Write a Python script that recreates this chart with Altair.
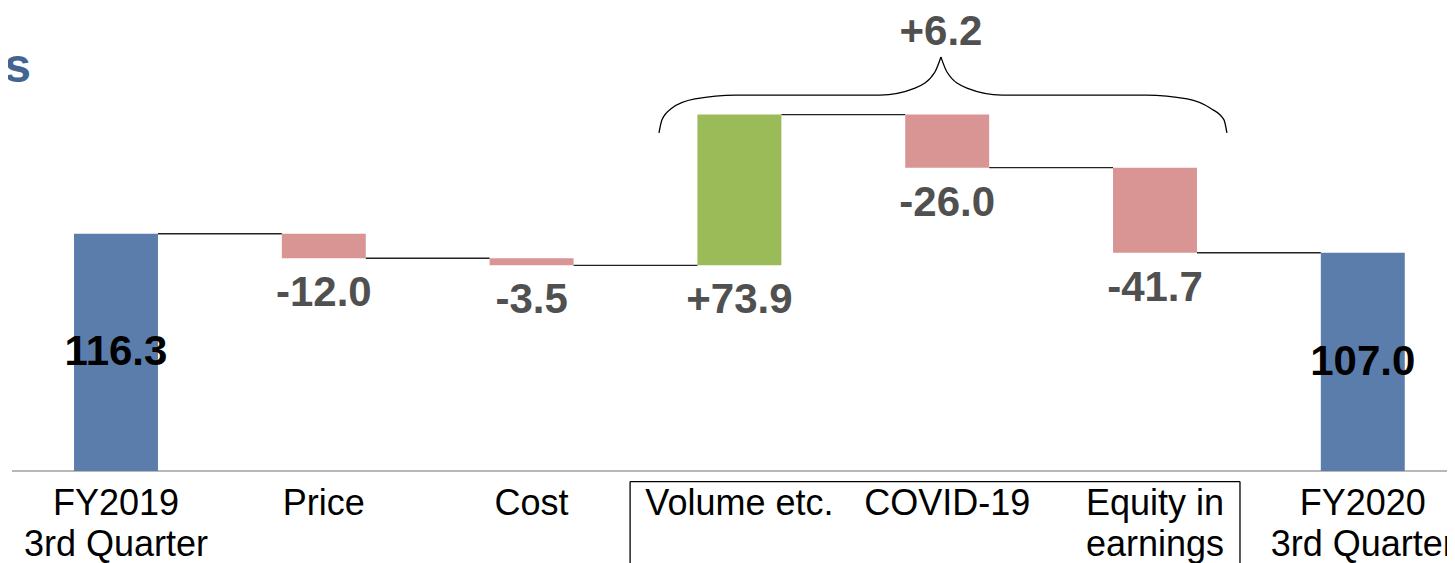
import altair as alt
import pandas as pd

# ---- data ----
categories = ["FY2019\n3rd Quarter", "Price", "Cost", "Volume etc.", "COVID-19",
              "Equity in\nearnings", "FY2020\n3rd Quarter"]
values = [116.3, -12.0, -3.5, 73.9, -26.0, -41.7, 107.0]
kinds = ["total", "delta", "delta", "delta", "delta", "delta", "total"]
group_total_label = "+6.2"
title_text = "Analysis"

# brace annotation shape (category index, value units)
brace_left_i = [2.613, 2.627, 2.676, 2.786, 2.984, 3.677, 3.845, 3.941, 3.970]
brace_left_v = [165.7, 172.1, 177.9, 182.4, 184.3, 184.3, 187.7, 195.6, 202.9]
brace_right_i = [3.970, 3.999, 4.095, 4.264, 4.957, 5.155, 5.265, 5.332, 5.346]
brace_right_v = [202.9, 195.6, 187.7, 184.3, 184.3, 182.4, 177.9, 172.1, 165.7]

# ---- derived table ----
rows = []
running = 0.0
for i, (c, v, k) in enumerate(zip(categories, values, kinds)):
    if k == "total":
        start, end = 0.0, v
        running = v
        label = f"{v:.1f}"
        kind = "total"
    else:
        start, end = running, running + v
        running = end
        label = f"{v:+.1f}"
        kind = "up" if v > 0 else "down"
    parts = c.split("\n")
    rows.append(dict(i=i, line1=parts[0], line2=parts[1] if len(parts) > 1 else "",
                     start=start, end=end, lo=min(start, end),
                     hi=max(start, end), mid=(start + end) / 2, label=label,
                     kind=kind, x0=i - 0.202, x1=i + 0.202))
df = pd.DataFrame(rows)

conn = pd.DataFrame({
    "x0": df["x1"].iloc[:-1].values,
    "x1": df["x0"].iloc[1:].values,
    "y": df["end"].iloc[:-1].values,
})

W, H = 1439, 555
XD = [-0.5197, 6.4052]
YD = [-45.1, 226.96]
FONT = "Liberation Sans"


def X(f):
    return alt.X(f, scale=alt.Scale(domain=XD, nice=False, zero=False), axis=None)


def Y(f):
    return alt.Y(f, scale=alt.Scale(domain=YD, nice=False, zero=False), axis=None)


base = alt.Chart(df)

bars = base.mark_bar().encode(
    x=X("x0:Q"), x2="x1:Q", y=Y("lo:Q"), y2="hi:Q",
    color=alt.Color("kind:N", legend=None,
                    scale=alt.Scale(domain=["total", "up", "down"],
                                    range=["#5a7dab", "#9bbb59", "#d99594"])),
)

connectors = alt.Chart(conn).mark_rule(color="#222222", strokeWidth=1.4).encode(
    x=X("x0:Q"), x2="x1:Q", y=Y("y:Q")
)

axis_line = alt.Chart(pd.DataFrame({"a": [-0.5005], "b": [6.5], "y": [0.0]})).mark_rule(
    color="#a0a0a0", strokeWidth=1.6
).encode(x=X("a:Q"), x2="b:Q", y=Y("y:Q"))

delta_labels = alt.Chart(df[df.kind != "total"].reset_index(drop=True)).mark_text(
    font=FONT, fontSize=42, fontWeight="bold", color="#505050",
    baseline="middle", dy=35
).encode(x=X("i:Q"), y=Y("lo:Q"), text="label:N")

total_labels = alt.Chart(df[df.kind == "total"].reset_index(drop=True)).mark_text(
    font=FONT, fontSize=42, fontWeight="bold", color="#000000", baseline="middle"
).encode(x=X("i:Q"), y=Y("mid:Q"), text="label:N")

cat_line1 = base.mark_text(
    font=FONT, fontSize=36, color="#000000", baseline="alphabetic"
).encode(x=X("i:Q"), y=alt.value(507), text="line1:N")
cat_line2 = base.mark_text(
    font=FONT, fontSize=36, color="#000000", baseline="alphabetic"
).encode(x=X("i:Q"), y=alt.value(548), text="line2:N")

# box around the grouped categories
box_df = pd.DataFrame({"a": [2.474], "b": [5.409], "top": [-5.2], "bot": [-46.0]})
box_top = alt.Chart(box_df).mark_rule(color="#000000", strokeWidth=1.3).encode(
    x=X("a:Q"), x2="b:Q", y=Y("top:Q")
)
box_left = alt.Chart(box_df).mark_rule(color="#000000", strokeWidth=1.3).encode(
    x=X("a:Q"), y=Y("top:Q"), y2="bot:Q"
)
box_right = alt.Chart(box_df).mark_rule(color="#000000", strokeWidth=1.3).encode(
    x=X("b:Q"), y=Y("top:Q"), y2="bot:Q"
)

brace_df = pd.concat([
    pd.DataFrame({"i": brace_left_i, "v": brace_left_v, "side": ["L"] * len(brace_left_i)}),
    pd.DataFrame({"i": brace_right_i, "v": brace_right_v, "side": ["R"] * len(brace_right_i)}),
], ignore_index=True)
brace = alt.Chart(brace_df).mark_line(color="#000000", strokeWidth=1.3,
                                      interpolate="monotone").encode(
    x=X("i:Q"), y=Y("v:Q"), detail="side:N"
)

brace_label = alt.Chart(pd.DataFrame({"i": [3.97], "v": [215.0], "t": [group_total_label]})).mark_text(
    font=FONT, fontSize=42, fontWeight="bold", color="#505050", baseline="middle"
).encode(x=X("i:Q"), y=Y("v:Q"), text="t:N")

title = alt.Chart(pd.DataFrame({"i": [-0.409], "v": [190.7], "t": [title_text]})).mark_text(
    font=FONT, fontSize=48, fontWeight="bold", color="#44658f",
    align="right", baseline="alphabetic"
).encode(x=X("i:Q"), y=Y("v:Q"), text="t:N")

chart = alt.layer(
    axis_line, connectors, bars, delta_labels, total_labels, cat_line1, cat_line2,
    box_top, box_left, box_right, brace, brace_label, title
).properties(
    width=W, height=H, autosize=alt.AutoSizeParams(type="none"), padding=0
).configure_view(strokeWidth=0)

chart.save("out.html", embed_options={"renderer": "svg", "actions": False})
